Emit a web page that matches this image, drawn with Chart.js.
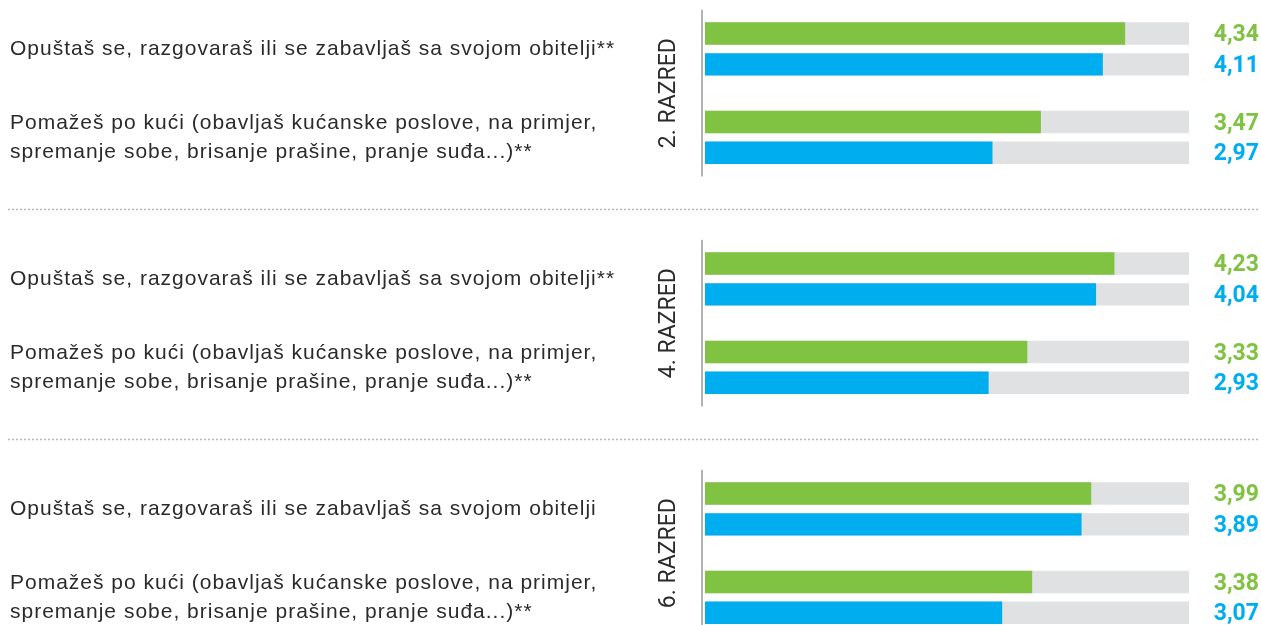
<!DOCTYPE html>
<html lang="hr">
<head>
<meta charset="utf-8">
<title>Aktivnosti s obitelji po razredima</title>
<script src="https://cdn.jsdelivr.net/npm/chart.js@4.4.1/dist/chart.umd.min.js"></script>
<style>
  html, body { margin: 0; padding: 0; background: #ffffff; overflow: hidden; }
  body { width: 1261px; height: 625px; position: relative; }
  canvas { position: absolute; left: 0; }
</style>
</head>
<body>
<canvas id="c2" width="1261" height="230" style="top:0px"></canvas>
<canvas id="c4" width="1261" height="230" style="top:230px"></canvas>
<canvas id="c6" width="1261" height="230" style="top:460px"></canvas>
<script>
// Razredi (naslovi panela)
const grades = ['2. RAZRED', '4. RAZRED', '6. RAZRED'];

// Tvrdnje po razredima
const itemsGrade2 = [
  'Opuštaš se, razgovaraš ili se zabavljaš sa svojom obitelji**',
  ['Pomažeš po kući (obavljaš kućanske poslove, na primjer,', 'spremanje sobe, brisanje prašine, pranje suđa...)**']
];
const itemsGrade4 = [
  'Opuštaš se, razgovaraš ili se zabavljaš sa svojom obitelji**',
  ['Pomažeš po kući (obavljaš kućanske poslove, na primjer,', 'spremanje sobe, brisanje prašine, pranje suđa...)**']
];
const itemsGrade6 = [
  'Opuštaš se, razgovaraš ili se zabavljaš sa svojom obitelji',
  ['Pomažeš po kući (obavljaš kućanske poslove, na primjer,', 'spremanje sobe, brisanje prašine, pranje suđa...)**']
];

// Prosječne vrijednosti (skala 1–5)
const greenGrade2 = [4.34, 3.47];
const blueGrade2  = [4.11, 2.97];
const greenGrade4 = [4.23, 3.33];
const blueGrade4  = [4.04, 2.93];
const greenGrade6 = [3.99, 3.38];
const blueGrade6  = [3.89, 3.07];

// Gornja granica skale
const scaleMax = 5;

const GREEN = '#80c242';
const BLUE = '#00aeef';
const TRACK = '#e0e1e3';
const TEXT = '#2b2b2b';

const fmt = v => v.toFixed(2).replace('.', ',');

// Razmak među slovima za opise tvrdnji (crtaju se s osi)
const labelSpacing = {
  id: 'labelSpacing',
  beforeDraw(chart) { chart.ctx.letterSpacing = '1px'; },
  beforeDatasetsDraw(chart) { chart.ctx.letterSpacing = '0px'; }
};

// Okomita crta osi, vrijednosti uz stupce, naslov razreda i razdjelnica
const panelDecor = {
  id: 'panelDecor',
  afterDatasetsDraw(chart, args, opts) {
    const { ctx, chartArea: a } = chart;
    ctx.save();

    ctx.strokeStyle = '#9b9b9b';
    ctx.lineWidth = 1.5;
    ctx.beginPath();
    ctx.moveTo(a.left - 3, a.top + 5);
    ctx.lineTo(a.left - 3, a.bottom - 5);
    ctx.stroke();

    ctx.font = 'bold 23px Roboto';
    ctx.textAlign = 'right';
    ctx.textBaseline = 'middle';
    [0, 1].forEach(i => {
      const ds = chart.data.datasets[i];
      chart.getDatasetMeta(i).data.forEach((bar, j) => {
        ctx.fillStyle = ds.backgroundColor;
        ctx.fillText(fmt(ds.data[j]), chart.width - 2, bar.y + 2);
      });
    });

    if (opts.separator) {
      ctx.strokeStyle = '#b8b8b8';
      ctx.lineWidth = 1.5;
      ctx.setLineDash([2, 2]);
      const y = a.bottom + 28;
      ctx.beginPath();
      ctx.moveTo(8, y);
      ctx.lineTo(chart.width - 2, y);
      ctx.stroke();
      ctx.setLineDash([]);
    }

    ctx.translate(668, (a.top + a.bottom) / 2);
    ctx.rotate(-Math.PI / 2);
    ctx.font = '23px Roboto';
    ctx.letterSpacing = '0px';
    ctx.textAlign = 'center';
    ctx.textBaseline = 'middle';
    ctx.fillStyle = TEXT;
    ctx.fillText(opts.title, 0, 1);

    ctx.restore();
  }
};

function buildPanel(canvasId, title, items, greens, blues, separator) {
  const tracks = items.map(() => scaleMax);
  return new Chart(document.getElementById(canvasId), {
    type: 'bar',
    data: {
      labels: items,
      datasets: [
        { label: 'Skupina 1', data: greens, backgroundColor: GREEN, stack: 'a' },
        { label: 'Skupina 2', data: blues, backgroundColor: BLUE, stack: 'b' },
        { label: 'Skala 1', data: tracks, backgroundColor: TRACK, stack: 'a' },
        { label: 'Skala 2', data: tracks, backgroundColor: TRACK, stack: 'b' }
      ]
    },
    options: {
      indexAxis: 'y',
      responsive: false,
      animation: false,
      events: [],
      datasets: {
        bar: { categoryPercentage: 0.697, barPercentage: 0.73, borderWidth: 0 }
      },
      layout: { padding: { left: 10, right: 72, top: 4.8, bottom: 48.5 } },
      scales: {
        x: { min: 0, max: scaleMax, stacked: false, display: false, grid: { display: false } },
        y: {
          type: 'category',
          grid: { display: false },
          border: { display: false },
          afterFit(scale) {
            scale.width = 695;
            scale.paddingTop = 0;
            scale.paddingBottom = 0;
          },
          ticks: {
            crossAlign: 'far',
            padding: 0,
            color: TEXT,
            font: { family: '"Liberation Sans", Arial, sans-serif', size: 21, lineHeight: 1.38 }
          }
        }
      },
      plugins: {
        legend: { display: false },
        tooltip: { enabled: false },
        panelDecor: { title, separator }
      }
    },
    plugins: [labelSpacing, panelDecor]
  });
}

buildPanel('c2', grades[0], itemsGrade2, greenGrade2, blueGrade2, true);
buildPanel('c4', grades[1], itemsGrade4, greenGrade4, blueGrade4, true);
buildPanel('c6', grades[2], itemsGrade6, greenGrade6, blueGrade6, false);
</script>
</body>
</html>
